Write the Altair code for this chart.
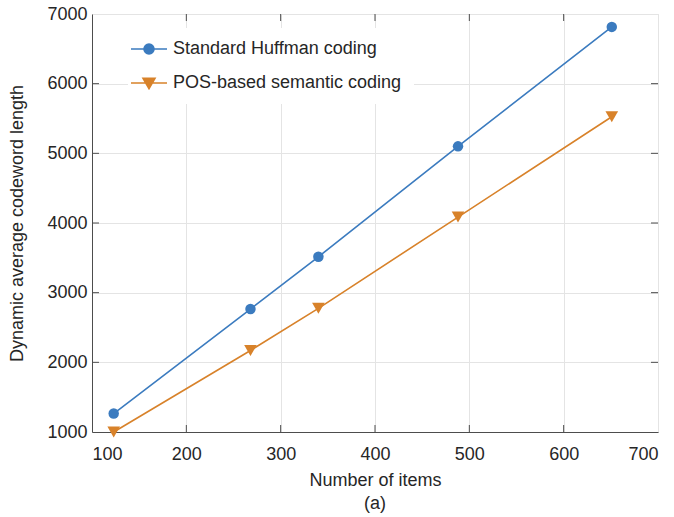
import altair as alt
import pandas as pd

# ---- data ----
n_items = [123, 268, 340, 488, 651]
huffman = [1265, 2765, 3515, 5100, 6815]
pos_sem = [1000, 2170, 2775, 4085, 5525]
series_names = ["Standard Huffman coding", "POS-based semantic coding"]

x_ticks = [100, 200, 300, 400, 500, 600, 700]
y_ticks = [1000, 2000, 3000, 4000, 5000, 6000, 7000]
x_inner = [200, 300, 400, 500, 600]
y_inner = [2000, 3000, 4000, 5000, 6000]

BLUE = "#3b7bbf"
ORANGE = "#d8822a"
FONT = "Liberation Sans"
TXT = "#262626"
W, H = 566, 418

rows = []
for xv, a, b in zip(n_items, huffman, pos_sem):
    rows.append({"x": xv, "y": a, "series": series_names[0]})
    rows.append({"x": xv, "y": b, "series": series_names[1]})
df = pd.DataFrame(rows)

xs = alt.Scale(domain=[100, 700], nice=False, zero=False)
ys = alt.Scale(domain=[1000, 7000], nice=False, zero=False)
cs = alt.Scale(domain=series_names, range=[BLUE, ORANGE])

xaxis = alt.Axis(values=x_ticks, format="d", grid=True, gridColor="#e4e4e4", ticks=False,
                 domainColor="#4d4d4d", labelFontSize=18, labelFont=FONT, labelColor=TXT,
                 labelPadding=13, title="Number of items", titleFontSize=18, titleFont=FONT,
                 titleFontWeight="normal", titleColor=TXT, titlePadding=8)
yaxis = alt.Axis(values=y_ticks, format="d", grid=True, gridColor="#e4e4e4", ticks=False,
                 domainColor="#4d4d4d", labelFontSize=18, labelFont=FONT, labelColor=TXT,
                 labelPadding=5, title="Dynamic average codeword length", titleFontSize=18,
                 titleFont=FONT, titleFontWeight="normal", titleColor=TXT, titlePadding=20)

base = alt.Chart(df)

lines = base.mark_line(strokeWidth=1.6).encode(
    x=alt.X("x:Q", scale=xs, axis=xaxis),
    y=alt.Y("y:Q", scale=ys, axis=yaxis),
    color=alt.Color("series:N", scale=cs, legend=None),
    detail="series:N",
)

pts_a = base.transform_filter(alt.datum.series == series_names[0]).mark_point(
    filled=True, opacity=1, shape="circle", size=110, color=BLUE).encode(
    x=alt.X("x:Q", scale=xs), y=alt.Y("y:Q", scale=ys))
pts_b = base.transform_filter(alt.datum.series == series_names[1]).mark_point(
    filled=True, opacity=1, shape="triangle-down", size=160, color=ORANGE).encode(
    x=alt.X("x:Q", scale=xs), y=alt.Y("y:Q", scale=ys))

# legend carrier: symbol = line segment with marker
circle_path = "M-3.6,0H3.6M1,0A1,1,0,1,1,-1,0A1,1,0,1,1,1,0Z"
tri_path = "M-3.6,0H3.6M-1.2,-0.95L1.2,-0.95L0,1.15Z"
leg = alt.Legend(
    title=None, orient="none", legendX=36, legendY=14,
    fillColor="white", padding=12, symbolSize=100, symbolStrokeWidth=1.6,
    symbolOpacity=1, labelLimit=500,
    labelFontSize=18, labelFont=FONT, labelColor=TXT, labelOffset=15,
    rowPadding=16,
)
legend_layer = base.mark_point(filled=True, opacity=0).encode(
    x=alt.X("x:Q", scale=xs),
    y=alt.Y("y:Q", scale=ys),
    fill=alt.Fill("series:N", scale=alt.Scale(domain=series_names, range=[BLUE, ORANGE]), legend=leg),
    stroke=alt.Stroke("series:N", scale=alt.Scale(domain=series_names, range=[BLUE, ORANGE]), legend=leg),
    shape=alt.Shape("series:N",
                    scale=alt.Scale(domain=series_names, range=[circle_path, tri_path]),
                    legend=leg),
)

tdf_x = pd.DataFrame({"v": x_inner})
tdf_y = pd.DataFrame({"v": y_inner})
tick_color = "#4d4d4d"
tb = alt.Chart(tdf_x).mark_rule(color=tick_color).encode(
    x=alt.X("v:Q", scale=xs), y=alt.value(H), y2=alt.value(H - 7))
tt = alt.Chart(tdf_x).mark_rule(color=tick_color).encode(
    x=alt.X("v:Q", scale=xs), y=alt.value(0), y2=alt.value(7))
tl = alt.Chart(tdf_y).mark_rule(color=tick_color).encode(
    y=alt.Y("v:Q", scale=ys), x=alt.value(0), x2=alt.value(7))
tr = alt.Chart(tdf_y).mark_rule(color=tick_color).encode(
    y=alt.Y("v:Q", scale=ys), x=alt.value(W), x2=alt.value(W - 7))

chart = alt.layer(tb, tt, tl, tr, legend_layer, lines, pts_a, pts_b).properties(
    width=W, height=H,
    padding={"left": 92, "top": 14, "right": 16, "bottom": 85},
    autosize=alt.AutoSizeParams(type="none"),
    title=alt.TitleParams(text="(a)", orient="bottom", fontSize=18, font=FONT,
                          fontWeight="normal", color=TXT, offset=6),
).configure_view(stroke="#4d4d4d", strokeWidth=1).configure(background="white")

chart.save("out.html", embed_options={"renderer": "svg", "actions": False})
